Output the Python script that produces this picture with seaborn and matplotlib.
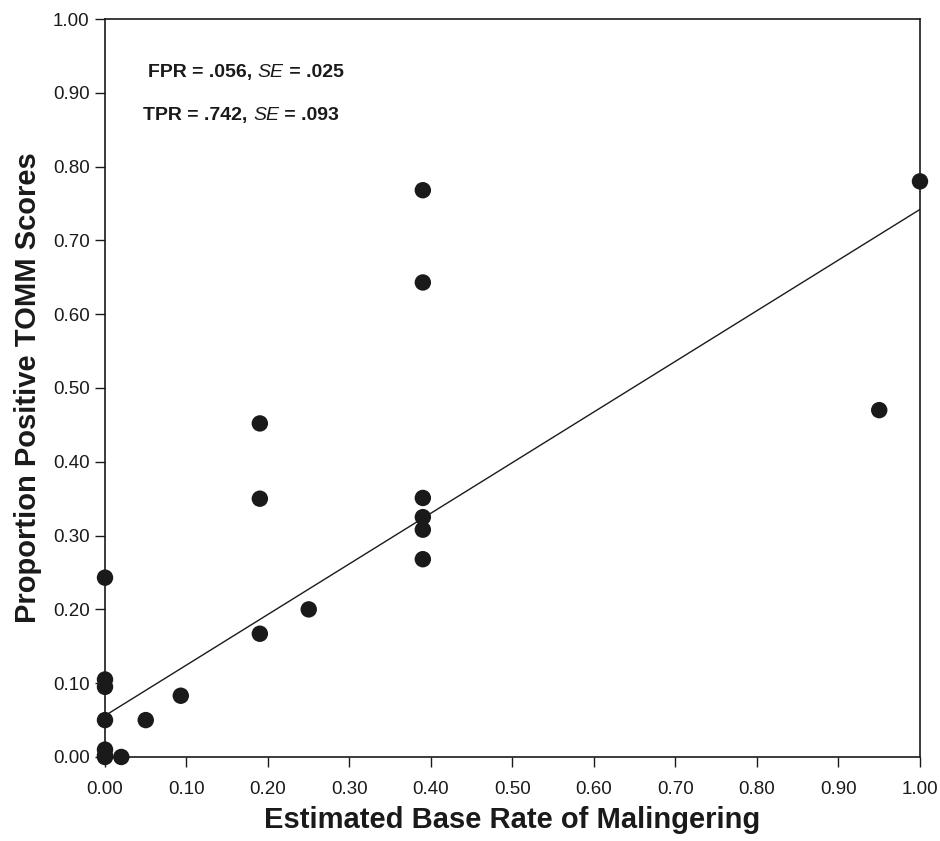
import numpy as np
import pandas as pd
import matplotlib
matplotlib.use("Agg")
import matplotlib.pyplot as plt
import seaborn as sns

# estimated base rate of malingering vs. proportion of positive TOMM scores
base_rate = [0.0, 0.0, 0.0, 0.0, 0.0, 0.0, 0.0, 0.02,
             0.05, 0.093, 0.19, 0.19, 0.19, 0.25,
             0.39, 0.39, 0.39, 0.39, 0.39, 0.39, 0.95, 1.0]
prop_positive = [0.243, 0.105, 0.095, 0.05, 0.01, 0.002, 0.0, 0.0,
                 0.05, 0.083, 0.167, 0.35, 0.452, 0.20,
                 0.768, 0.643, 0.351, 0.325, 0.308, 0.268, 0.47, 0.78]

# fitted line: intercept = FPR, value at base rate 1 = TPR
fpr, fpr_se = 0.056, 0.025
tpr, tpr_se = 0.742, 0.093

tick_vals = [0.0, 0.1, 0.2, 0.3, 0.4, 0.5, 0.6, 0.7, 0.8, 0.9, 1.0]
tick_labels = ["%.2f" % v for v in tick_vals]

sns.set_theme(style="white")
plt.rcParams["font.family"] = ["Liberation Sans", "DejaVu Sans"]

df = pd.DataFrame({"base_rate": base_rate, "prop": prop_positive})

fig = plt.figure(figsize=(9.4, 8.41), dpi=100)
ax = fig.add_axes([0.1117, 0.0999, 0.867, 0.8775])

line_x = np.array([0.0, 1.0])
ax.plot(line_x, fpr + (tpr - fpr) * line_x, color="#1a1a1a", lw=1.0, zorder=2)

sns.scatterplot(data=df, x="base_rate", y="prop", ax=ax, s=140,
                color="#1a1a1a", edgecolor="none", zorder=3, clip_on=False)

ax.set_xlim(0, 1)
ax.set_ylim(0, 1)
ax.set_xticks(tick_vals)
ax.set_xticklabels(tick_labels)
ax.set_yticks(tick_vals)
ax.set_yticklabels(tick_labels)
ax.tick_params(axis="both", direction="out", length=7, width=1.0,
               color="#1a1a1a", labelsize=13.5, labelcolor="#1a1a1a",
               bottom=True, left=True, top=False, right=False)
ax.tick_params(axis="x", pad=10)
ax.tick_params(axis="y", pad=4)
for sp in ax.spines.values():
    sp.set_color("#1a1a1a")
    sp.set_linewidth(1.2)

ax.set_xlabel("Estimated Base Rate of Malingering", fontsize=21,
              fontweight="bold", color="#1a1a1a", labelpad=6)
ax.set_ylabel("Proportion Positive TOMM Scores", fontsize=21,
              fontweight="bold", color="#1a1a1a", labelpad=8)


def stat_text(x, y, name, val, se):
    t1 = ax.text(x, y, "%s = %s, " % (name, ("%.3f" % val)[1:]),
                 fontsize=14, fontweight="bold", color="#1a1a1a",
                 va="bottom", ha="left")
    t2 = ax.annotate("SE", xy=(1, 0), xycoords=t1, fontsize=14,
                     fontstyle="italic", color="#1a1a1a",
                     va="bottom", ha="left")
    ax.annotate(" = %s" % ("%.3f" % se)[1:], xy=(1, 0), xycoords=t2,
                fontsize=14, fontweight="bold", color="#1a1a1a",
                va="bottom", ha="left")


stat_text(0.053, 0.916, "FPR", fpr, fpr_se)
stat_text(0.047, 0.858, "TPR", tpr, tpr_se)

fig.savefig("out.png", dpi=100)
